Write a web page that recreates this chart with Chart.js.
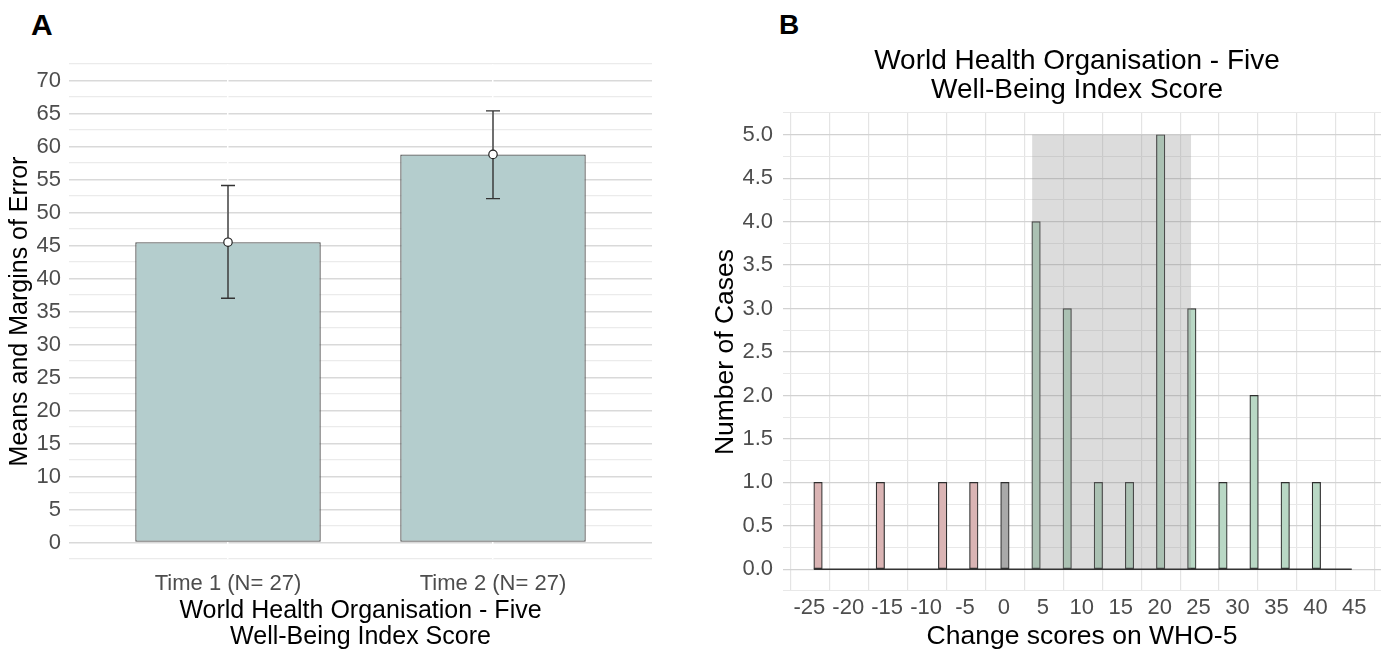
<!DOCTYPE html>
<html><head><meta charset="utf-8">
<script src="https://cdn.jsdelivr.net/npm/chart.js@4.4.1/dist/chart.umd.min.js"></script>
<style>
html,body{margin:0;padding:0;background:#fff;}
#wrap{position:relative;width:1389px;height:652px;overflow:hidden;background:#fff;}
canvas{position:absolute;top:0;}
#cA{left:0;} #cB{left:695px;}
.tag{position:absolute;font-family:"Liberation Sans",Arial,sans-serif;font-weight:bold;line-height:1;color:#000;}
</style></head><body>
<div id="wrap">
<div class="tag" style="left:31px;top:10px;font-size:30px;">A</div>
<div class="tag" style="left:779px;top:11px;font-size:28px;">B</div>
<canvas id="cA" width="690" height="652"></canvas>
<canvas id="cB" width="694" height="652"></canvas>
</div>
<script>
// ---------- Panel A data ----------
const categoriesA = ['Time 1 (N= 27)', 'Time 2 (N= 27)'];
const meansA = [45.5, 58.8];
const ciLowerA = [37.0, 52.1];
const ciUpperA = [54.1, 65.4];
const xTitleA = ['World Health Organisation - Five', 'Well-Being Index Score'];
const yTitleA = 'Means and Margins of Error';

// ---------- Panel B data ----------
const binCentersB = [-24, -20, -16, -12, -8, -4, 0, 4, 8, 12, 16, 20, 24, 28, 32, 36, 40, 44];
const countsB = [1, 0, 1, 0, 1, 1, 1, 4, 3, 1, 1, 5, 3, 1, 2, 1, 1, 0];
const xTickLabelsB = ['-25', '-20', '-15', '-10', '-5', '0', '5', '10', '15', '20', '25', '30', '35', '40', '45'];
const shadeRangeB = [3.5, 23.9];
const shadeTopB = 5;
const titleB = ['World Health Organisation - Five', 'Well-Being Index Score'];
const xTitleB = 'Change scores on WHO-5';
const yTitleB = 'Number of Cases';

Chart.defaults.font.family = '"Liberation Sans", Arial, sans-serif';
Chart.defaults.animation = false;

const TICK_COLOR = '#4d4d4d';
function range(a, b, step) { const out = []; const n = Math.round((b - a) / step); for (let i = 0; i <= n; i++) out.push(+(a + i * step).toFixed(6)); return out; }
function isMult(v, m) { return Math.abs(v / m - Math.round(v / m)) < 1e-6; }

// ---------- Panel A ----------
const errorBarPlugin = {
  id: 'errorBars',
  afterDatasetDraw(chart, args) {
    if (args.index !== 0) return;
    const ctx = chart.ctx, xs = chart.scales.x, ys = chart.scales.y;
    ctx.save();
    ctx.strokeStyle = '#333';
    ctx.lineWidth = 1.4;
    meansA.forEach((m, i) => {
      const x = xs.getPixelForValue(i + 1);
      const yl = ys.getPixelForValue(ciLowerA[i]);
      const yu = ys.getPixelForValue(ciUpperA[i]);
      ctx.beginPath();
      ctx.moveTo(x, yl); ctx.lineTo(x, yu);
      ctx.moveTo(x - 7, yl); ctx.lineTo(x + 7, yl);
      ctx.moveTo(x - 7, yu); ctx.lineTo(x + 7, yu);
      ctx.stroke();
    });
    ctx.restore();
  }
};

new Chart(document.getElementById('cA'), {
  type: 'bar',
  data: {
    datasets: [
      {
        type: 'bar',
        order: 2,
        data: meansA.map((m, i) => ({ x: i + 1, y: m })),
        backgroundColor: '#b4cdcd',
        borderColor: '#505050',
        borderWidth: 1.3,
        borderSkipped: false,
        categoryPercentage: 0.8,
        barPercentage: 0.875
      },
      {
        type: 'scatter',
        order: 1,
        data: meansA.map((m, i) => ({ x: i + 1, y: m })),
        pointRadius: 4.2,
        pointBackgroundColor: '#ffffff',
        pointBorderColor: '#222',
        pointBorderWidth: 1.2
      }
    ]
  },
  options: {
    responsive: false,
    layout: { padding: { top: 64, right: 38, left: 0, bottom: 0 } },
    plugins: { legend: { display: false }, tooltip: { enabled: false } },
    scales: {
      x: {
        type: 'linear',
        offset: false,
        min: 0.4, max: 2.6,
        afterBuildTicks(s) { s.ticks = categoriesA.map((c, i) => ({ value: i + 1 })); },
        afterFit(s) { s.height = 93; },
        grid: { offset: false, color: '#ffffff', lineWidth: 1.5, drawTicks: false, z: -0.5 },
        border: { display: false },
        ticks: {
          autoSkip: false, maxRotation: 0, minRotation: 0, padding: 12,
          color: TICK_COLOR, font: { size: 22 },
          callback: (v) => categoriesA[Math.round(v) - 1] || ''
        },
        title: { display: true, text: xTitleA, color: '#000', font: { size: 25, lineHeight: 1.04 }, padding: { top: 0, bottom: 2.3 } }
      },
      y: {
        type: 'linear',
        min: -2.5, max: 72.5,
        afterBuildTicks(s) { s.ticks = range(-2.5, 72.5, 2.5).map(v => ({ value: v })); },
        afterFit(s) { s.width = 69; },
        grid: {
          drawTicks: false,
          color: (c) => isMult(c.tick.value, 5) ? '#d9d9d9' : '#ebebeb',
          lineWidth: (c) => isMult(c.tick.value, 5) ? 1.6 : 1.3
        },
        border: { display: false },
        ticks: {
          autoSkip: false, padding: 8, color: TICK_COLOR, font: { size: 22 },
          callback: (v) => (v >= 0 && isMult(v, 5)) ? String(v) : ''
        },
        title: { display: true, text: yTitleA, color: '#000', font: { size: 25, lineHeight: 1.04 }, padding: { top: 7, bottom: 0 } }
      }
    }
  },
  plugins: [errorBarPlugin]
});

// ---------- Panel B ----------
const colorFor = (v) => v < 0 ? '#dab4b4' : (v === 0 ? '#a9a9a9' : '#b9d8c5');

const histExtrasPlugin = {
  id: 'histExtras',
  afterDatasetsDraw(chart) {
    const ctx = chart.ctx, xs = chart.scales.x, ys = chart.scales.y;
    const x0 = xs.getPixelForValue(shadeRangeB[0]);
    const x1 = xs.getPixelForValue(shadeRangeB[1]);
    const yt = ys.getPixelForValue(shadeTopB);
    const yb = ys.getPixelForValue(0);
    ctx.save();
    ctx.fillStyle = 'rgba(140,140,140,0.3)';
    ctx.fillRect(x0, yt, x1 - x0, yb - yt);
    const meta = chart.getDatasetMeta(0);
    const first = meta.data[0], last = meta.data[meta.data.length - 1];
    ctx.strokeStyle = '#333';
    ctx.lineWidth = 1.3;
    ctx.beginPath();
    ctx.moveTo(first.x - first.width / 2, yb);
    ctx.lineTo(last.x + last.width / 2, yb);
    ctx.stroke();
    ctx.restore();
  },
  afterDraw(chart) {
    const ctx = chart.ctx, ca = chart.chartArea;
    ctx.save();
    ctx.fillStyle = '#000';
    ctx.font = '28px "Liberation Sans", Arial, sans-serif';
    ctx.textAlign = 'center';
    ctx.textBaseline = 'middle';
    const cx = (ca.left + ca.right) / 2 - 5;
    titleB.forEach((t, i) => ctx.fillText(t, cx, ca.top - 51.5 + i * 29));
    ctx.restore();
  }
};

new Chart(document.getElementById('cB'), {
  type: 'bar',
  data: {
    datasets: [{
      data: binCentersB.map((b, i) => ({ x: b, y: countsB[i] })),
      backgroundColor: binCentersB.map(colorFor),
      borderColor: '#2e2e2e',
      borderWidth: 1.2,
      borderSkipped: false,
      barThickness: 8.5
    }]
  },
  options: {
    responsive: false,
    layout: { padding: { top: 113, right: 8, left: 0, bottom: 0 } },
    plugins: { legend: { display: false }, tooltip: { enabled: false } },
    scales: {
      x: {
        type: 'linear',
        offset: false,
        min: -28.5, max: 48.3,
        afterBuildTicks(s) { s.ticks = range(-27.5, 47.5, 5).map(v => ({ value: v })); },
        afterFit(s) { s.height = 61; },
        grid: { offset: false, color: '#e4e4e4', lineWidth: 1.2, drawTicks: false },
        border: { display: false },
        ticks: {
          autoSkip: false, maxRotation: 0, minRotation: 0, padding: 4, labelOffset: 18.5,
          color: TICK_COLOR, font: { size: 22 },
          callback: (v, i) => xTickLabelsB[i] || ''
        },
        title: { display: true, text: xTitleB, color: '#000', font: { size: 26.5, lineHeight: 1.04 }, padding: { top: 0, bottom: 1.5 } }
      },
      y: {
        type: 'linear',
        min: -0.25, max: 5.25,
        afterBuildTicks(s) { s.ticks = range(-0.25, 5.25, 0.25).map(v => ({ value: v })); },
        afterFit(s) { s.width = 88; },
        grid: {
          drawTicks: false,
          color: (c) => isMult(c.tick.value, 0.5) ? '#d2d2d2' : '#e8e8e8',
          lineWidth: (c) => isMult(c.tick.value, 0.5) ? 1.3 : 1.1
        },
        border: { display: false },
        ticks: {
          autoSkip: false, padding: 10, color: TICK_COLOR, font: { size: 22 },
          callback: (v) => (v >= 0 && isMult(v, 0.5)) ? v.toFixed(1) : ''
        },
        title: { display: true, text: yTitleB, color: '#000', font: { size: 26.5, lineHeight: 1.04 }, padding: { top: 17, bottom: 0 } }
      }
    }
  },
  plugins: [histExtrasPlugin]
});
</script>
</body></html>
